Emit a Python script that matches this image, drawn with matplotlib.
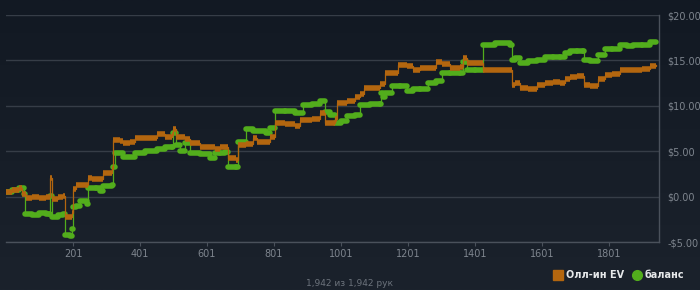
import numpy as np
import matplotlib
matplotlib.use("Agg")
import matplotlib.pyplot as plt
from matplotlib.lines import Line2D

# hand number / value pairs
ev_hands = [1, 20, 40, 49, 60, 80, 100, 120, 129, 132, 138, 156, 170, 177, 192, 198,
            201, 210, 240, 246, 258, 280, 291, 310, 317, 320, 340, 350, 370, 386, 416,
            452, 476, 496, 500, 508, 535, 550, 580, 610, 625, 640, 655, 664, 688, 694,
            718, 738, 750, 777, 789, 804, 834, 864, 879, 915, 937, 953, 983, 990, 1019,
            1043, 1058, 1070, 1117, 1132, 1153, 1170, 1198, 1216, 1237, 1262, 1283, 1303,
            1327, 1357, 1365, 1377, 1401, 1425, 1461, 1505, 1510, 1520, 1535, 1559, 1586,
            1610, 1634, 1655, 1670, 1685, 1706, 1723, 1726, 1744, 1768, 1789, 1810, 1833,
            1854, 1872, 1899, 1923, 1942]
ev_vals = [0.5, 0.7, 0.9, 0.3, -0.1, 0.0, -0.1, 0.0, 0.0, 2.0, -0.3, 0.0, 0.1, -2.2, -2.3, -1.8,
           0.8, 1.3, 1.3, 2.1, 1.9, 1.9, 2.6, 2.6, 3.0, 6.2, 6.1, 5.9, 6.0, 6.5, 6.5,
           6.9, 6.6, 6.8, 7.5, 6.6, 6.4, 5.9, 5.5, 5.5, 5.2, 5.5, 5.5, 4.3, 4.0, 5.7,
           5.8, 6.5, 6.0, 6.0, 6.6, 8.1, 8.0, 7.8, 8.4, 8.5, 9.2, 8.1, 8.5, 10.3, 10.5,
           11.0, 11.3, 12.0, 12.4, 13.6, 13.6, 14.5, 14.4, 14.0, 14.2, 14.2, 14.8, 14.6,
           14.2, 14.3, 15.3, 14.7, 14.7, 14.0, 14.0, 14.0, 12.3, 12.5, 12.0, 11.9, 12.3,
           12.5, 12.6, 12.5, 13.0, 13.2, 13.3, 13.3, 12.3, 12.2, 13.0, 13.4, 13.5, 14.0,
           13.9, 14.0, 14.1, 14.4, 14.5]

bal_hands = [1, 20, 40, 55, 58, 80, 100, 120, 129, 132, 138, 156, 170, 177, 192, 198,
             201, 210, 222, 243, 246, 270, 282, 291, 317, 320, 326, 350, 386, 416, 452,
             476, 496, 500, 508, 520, 535, 550, 580, 610, 625, 640, 655, 664, 688, 694,
             718, 738, 777, 789, 804, 834, 864, 888, 915, 937, 953, 968, 983, 1001, 1019,
             1043, 1058, 1088, 1117, 1120, 1125, 1132, 1153, 1177, 1198, 1216, 1237, 1262,
             1283, 1303, 1327, 1357, 1365, 1377, 1401, 1425, 1461, 1505, 1510, 1520, 1535,
             1559, 1586, 1610, 1634, 1655, 1670, 1685, 1706, 1723, 1726, 1744, 1768, 1789,
             1810, 1833, 1854, 1872, 1899, 1923, 1942]
bal_vals = [0.5, 0.7, 0.9, 0.3, -1.9, -2.0, -1.8, -1.9, -1.9, 0.1, -2.3, -2.0, -1.9, -4.2, -4.3, -3.6,
            -1.1, -1.0, -0.5, -0.8, 1.0, 0.9, 0.6, 1.2, 1.3, 3.3, 4.8, 4.4, 4.8, 5.0, 5.2,
            5.5, 5.5, 7.0, 5.7, 5.0, 5.9, 4.8, 4.7, 4.3, 4.8, 4.8, 4.9, 3.3, 3.3, 6.0,
            7.4, 7.2, 7.0, 7.6, 9.4, 9.4, 9.2, 10.1, 10.2, 10.5, 9.3, 9.0, 8.1, 8.3, 8.9,
            9.0, 10.1, 10.2, 10.2, 11.4, 11.0, 11.4, 12.2, 12.2, 11.6, 11.9, 11.9, 12.5,
            12.7, 13.6, 13.6, 13.6, 14.8, 14.0, 14.0, 16.7, 16.9, 16.7, 15.0, 15.3, 14.7,
            14.9, 15.0, 15.4, 15.4, 15.4, 15.8, 16.0, 16.0, 16.0, 15.0, 14.9, 15.6, 16.3,
            16.3, 16.7, 16.6, 16.7, 16.7, 17.0, 17.1]

xticks = [201, 401, 601, 801, 1001, 1201, 1401, 1601, 1801]
yticks = [-5, 0, 5, 10, 15, 20]
total_hands = 1942

orange = "#b3660f"
green = "#52ad1c"
grid_c = "#363d47"
text_c = "#7e858e"

fig = plt.figure(figsize=(7, 2.9), dpi=100)

# dark vertical gradient background
bg = fig.add_axes([0, 0, 1, 1], zorder=-10)
grad = np.linspace(0, 1, 256).reshape(-1, 1)
top = np.array([0x12, 0x19, 0x23]) / 255
bot = np.array([0x1b, 0x22, 0x2c]) / 255
img = top + (bot - top) * grad[..., None]
bg.imshow(img, aspect="auto", extent=[0, 1, 0, 1])
bg.axis("off")

ax = fig.add_axes([0.0086, 0.1655, 0.9328, 0.7825])
ax.set_facecolor("none")


def draw_series(hands, vals, color, cap, z):
    h = np.array(hands)
    v = np.array(vals)
    ax.step(h, v, where="post", color=color, lw=0.9, zorder=z)
    ax.hlines(v[:-1], h[:-1], h[1:], colors=color, lw=4.0, capstyle=cap, zorder=z + 1)


draw_series(bal_hands, bal_vals, green, "round", 3)
draw_series(ev_hands, ev_vals, orange, "butt", 5)

ax.set_xlim(1, 1950)
ax.set_ylim(-5, 20)
ax.set_xticks(xticks)
ax.set_xticklabels([str(t) for t in xticks])
ax.set_yticks(yticks)
ax.set_yticklabels([("-$%.2f" % abs(t)) if t < 0 else "$%.2f" % t for t in yticks])
ax.yaxis.tick_right()
ax.tick_params(axis="y", length=0, pad=6, labelsize=7, colors=text_c)
ax.tick_params(axis="x", length=3, width=0.8, color="#4a515b", pad=2, labelsize=7,
               colors=text_c)
ax.grid(axis="y", color=grid_c, lw=1)
for s in ["top", "left"]:
    ax.spines[s].set_visible(False)
for s in ["bottom", "right"]:
    ax.spines[s].set_color("#4a515b")
    ax.spines[s].set_linewidth(1)

fig.text(0.5, 0.024, "{:,} из {:,} рук".format(total_hands, total_hands),
         ha="center", va="center", fontsize=6.5, color="#6c737c")

handles = [Line2D([], [], ls="none", marker="s", ms=7, color=orange),
           Line2D([], [], ls="none", marker="o", ms=7, color=green)]
leg = fig.legend(handles, ["Олл-ин EV", "баланс"], loc="center right",
                 bbox_to_anchor=(0.99, 0.052), ncol=2, frameon=False, fontsize=7,
                 handlelength=1.0, handletextpad=0.3, columnspacing=0.8)
for t in leg.get_texts():
    t.set_color("#e6e8ea")
    t.set_fontweight("bold")

fig.savefig("out.png", dpi=100, facecolor=fig.get_facecolor())
